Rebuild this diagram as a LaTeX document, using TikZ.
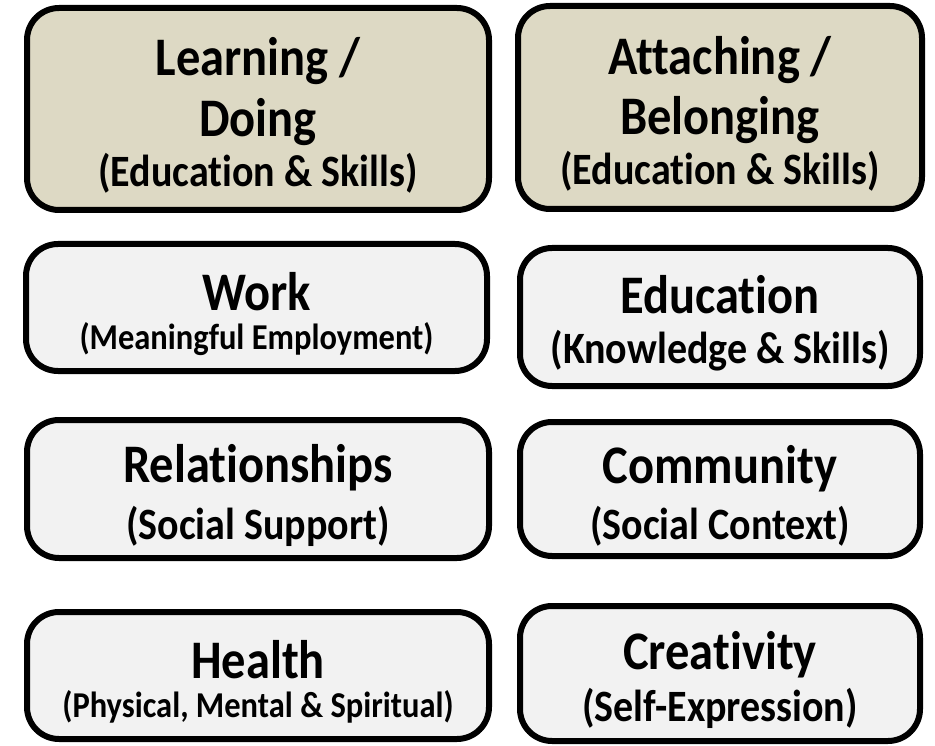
\documentclass[tikz,border=0pt]{standalone}
\usepackage{graphicx}
\usepackage{fontspec}
\setmainfont[Ligatures=CommonOff]{Carlito}

\definecolor{tanfill}{HTML}{DDD9C4}
\definecolor{greyfill}{HTML}{F2F2F2}

\newcommand{\lift}{\rule{0pt}{51pt}}
\newcommand{\titletext}[1]{\scalebox{1}[1.12]{\fontsize{48.5}{50}\selectfont #1}}
\newcommand{\subtext}[1]{\scalebox{1}[1.12]{\fontsize{40}{44}\selectfont #1}}
\newcommand{\smalltext}[1]{\scalebox{1}[1.12]{\fontsize{32.5}{38}\selectfont #1}}

\begin{document}
\begin{tikzpicture}[x=1pt, y=-1pt,
    box/.style={draw, line width=6pt, rounded corners=32pt, align=center,
      inner sep=0pt, font=\bfseries\fontsize{40}{40}\selectfont},
    tanbox/.style={box, fill=tanfill},
    greybox/.style={box, fill=greyfill}]
    \useasboundingbox (0, 0) rectangle (935, 746);
    % top row
    \node [tanbox, minimum width=462, minimum height=202] (learning) at (258, 109)
      {\lift\titletext{Learning /}\\[12pt] \titletext{Doing}\\[7pt] \subtext{(Education \& Skills)}};
    \node [tanbox, minimum width=404, minimum height=203] (attaching) at (720, 107.5)
      {\lift\titletext{Attaching /}\\[12pt] \titletext{Belonging}\\[7pt] \subtext{(Education \& Skills)}};
    % second row
    \node [greybox, minimum width=461, minimum height=127] (work) at (256.5, 307.5)
      {\lift\titletext{Work}\\[-1pt] \smalltext{(Meaningful Employment)}};
    \node [greybox, minimum width=400, minimum height=138] (education) at (720, 317)
      {\lift\titletext{Education}\\[10pt] \subtext{(Knowledge \& Skills)}};
    % third row
    \node [greybox, minimum width=462, minimum height=138] (relationships) at (258, 489)
      {\lift\titletext{Relationships}\\[14pt] \subtext{(Social Support)}};
    \node [greybox, minimum width=400, minimum height=134] (community) at (720, 489)
      {\lift\titletext{Community}\\[13pt] \subtext{(Social Context)}};
    % bottom row
    \node [greybox, minimum width=462, minimum height=127] (health) at (258, 675.5)
      {\lift\titletext{Health}\\[-1pt] \smalltext{(Physical, Mental \& Spiritual)}};
    \node [greybox, minimum width=400, minimum height=135] (creativity) at (720, 673.5)
      {\lift\titletext{Creativity}\\[9pt] \subtext{(Self-Expression)}};
  \end{tikzpicture}
\end{document}
